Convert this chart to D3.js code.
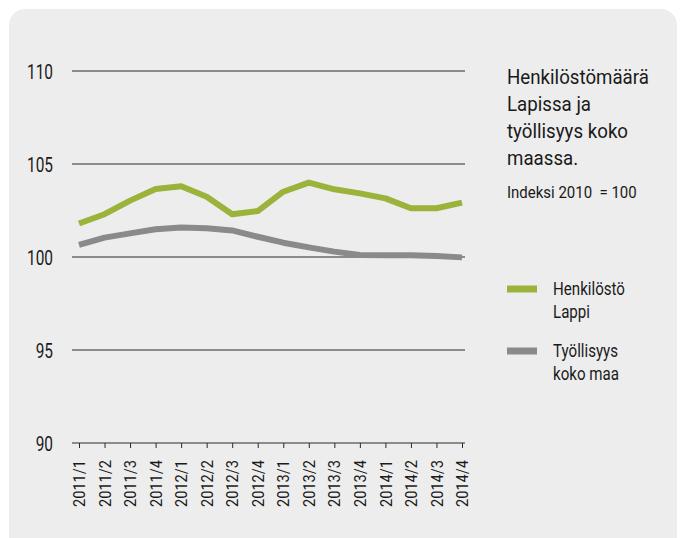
<!DOCTYPE html>
<html><head><meta charset="utf-8">
<script src="https://cdn.jsdelivr.net/npm/d3@7"></script>
<style>
html,body{margin:0;padding:0;background:#fff;}
text{font-family:"Roboto","Liberation Sans",sans-serif;fill:#1a1a1a;}
</style></head><body>
<svg id="c" width="685" height="538"></svg>
<script>
const categories = ["2011/1","2011/2","2011/3","2011/4","2012/1","2012/2","2012/3","2012/4","2013/1","2013/2","2013/3","2013/4","2014/1","2014/2","2014/3","2014/4"];
const henkilostoLappi = [101.8,102.3,103.03,103.66,103.8,103.24,102.3,102.47,103.51,104.0,103.64,103.42,103.15,102.62,102.62,102.92];
const tyollisyysKokoMaa = [100.65,101.04,101.27,101.49,101.59,101.54,101.43,101.09,100.77,100.52,100.29,100.11,100.09,100.09,100.05,99.98];
const yTicks = [90,95,100,105,110];
const titleLines = ["Henkilöstömäärä","Lapissa ja","työllisyys koko","maassa."];
const subtitle = "Indeksi 2010  = 100";
const legendItems = [
  {lines:["Henkilöstö","Lappi"], color:"#9bb33b"},
  {lines:["Työllisyys","koko maa"], color:"#8a8a8a"}
];

const svg = d3.select("#c");
svg.append("rect").attr("x",9).attr("y",9).attr("width",668).attr("height",560).attr("rx",16).attr("fill","#ededed");

const x = d3.scalePoint().domain(categories).range([79,462]);
const y = d3.scaleLinear().domain([90,110]).range([443,71]);

// measure helper for condensed look
function measure(str, size){
  const t = svg.append("text").style("font-size",size+"px").text(str);
  const w = t.node().getComputedTextLength(); t.remove(); return w;
}
const kY = 26/measure("110",21);
const kX = 47/measure("2011/1",17);
const kT = 142/measure("Henkilöstömäärä",21);
const kS = 126/measure(subtitle,17);
const kL = 72/measure("Henkilöstö",18);

// gridlines
svg.append("g").selectAll("line").data(yTicks.filter(d=>d!==90)).join("line")
  .attr("x1",72).attr("x2",465).attr("y1",d=>y(d)).attr("y2",d=>y(d))
  .attr("stroke","#2a2a2a").attr("stroke-width",1);

// y labels
svg.append("g").selectAll("text").data(yTicks).join("text")
  .attr("transform",d=>`translate(53,${y(d)}) scale(${kY},1)`)
  .attr("dy","0.36em").attr("text-anchor","end")
  .style("font-size","21px").text(d=>d);

// x axis
const xAxis = d3.axisBottom(x).tickSize(5).tickSizeOuter(0).tickFormat("");
const gx = svg.append("g").attr("transform","translate(0,443)").call(xAxis);
gx.select(".domain").remove();
gx.selectAll(".tick line").attr("stroke","#2a2a2a");
gx.append("line").attr("x1",72).attr("x2",465).attr("stroke","#2a2a2a");
svg.append("g").selectAll("text").data(categories).join("text")
  .attr("transform",d=>`translate(${x(d)},460) rotate(-90) scale(${kX},1)`)
  .attr("dy","0.36em").attr("text-anchor","end").style("font-size","17px").text(d=>d);

const line = d3.line().x((d,i)=>x(categories[i])).y(d=>y(d)).curve(d3.curveLinear);
svg.append("path").datum(tyollisyysKokoMaa).attr("d",line).attr("fill","none")
  .attr("stroke","#8a8a8a").attr("stroke-width",6).attr("stroke-linejoin","round");
svg.append("path").datum(henkilostoLappi).attr("d",line).attr("fill","none")
  .attr("stroke","#9bb33b").attr("stroke-width",6).attr("stroke-linejoin","round");

// title
svg.append("g").selectAll("text").data(titleLines).join("text")
  .attr("transform",(d,i)=>`translate(507,${84+i*27}) scale(${kT},1)`)
  .style("font-size","21px").text(d=>d);
svg.append("text").attr("transform",`translate(507,198) scale(${kS},1)`)
  .style("font-size","17px").attr("xml:space","preserve").style("white-space","pre").text(subtitle);

// legend
const lg = svg.append("g").selectAll("g").data(legendItems).join("g")
  .attr("transform",(d,i)=>`translate(507,${289+i*62})`);
lg.append("line").attr("x1",0).attr("x2",30).attr("stroke",d=>d.color).attr("stroke-width",7);
lg.each(function(d){
  d3.select(this).selectAll("text").data(d.lines).join("text")
    .attr("transform",(t,i)=>`translate(46,${6+i*23}) scale(${kL},1)`)
    .style("font-size","18px").text(t=>t);
});
</script></body></html>
